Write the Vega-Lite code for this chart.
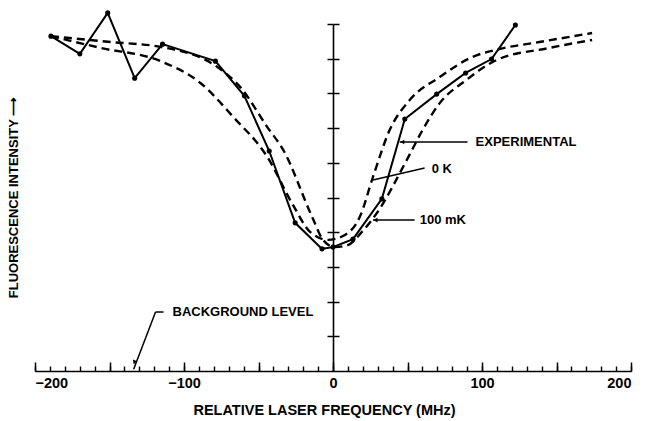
{
  "$schema": "https://vega.github.io/schema/vega-lite/v6.json",
  "width": 596,
  "height": 347,
  "autosize": {"type": "none"},
  "padding": {"left": 35, "top": 24, "right": 14, "bottom": 50},
  "background": "white",
  "config": {
    "view": {"stroke": null},
    "font": "Liberation Sans",
    "axis": {"grid": false, "domainColor": "black", "tickColor": "black", "labelColor": "black", "titleColor": "black", "labelFont": "Liberation Sans", "titleFont": "Liberation Sans"}
  },
  "datasets": {
    "experimental": [
      {"freq": -189.3, "intensity": 9.65},
      {"freq": -169.9, "intensity": 9.14},
      {"freq": -151.2, "intensity": 10.32},
      {"freq": -133.1, "intensity": 8.44},
      {"freq": -114.4, "intensity": 9.42},
      {"freq": -78.9, "intensity": 8.93},
      {"freq": -59.5, "intensity": 7.93},
      {"freq": -42.8, "intensity": 6.34},
      {"freq": -25.4, "intensity": 4.27},
      {"freq": -7.4, "intensity": 3.52},
      {"freq": 0, "intensity": 3.57},
      {"freq": 13.4, "intensity": 3.8},
      {"freq": 32.8, "intensity": 4.96},
      {"freq": 48.2, "intensity": 7.26},
      {"freq": 69.6, "intensity": 7.98},
      {"freq": 89.0, "intensity": 8.59},
      {"freq": 106.4, "intensity": 8.99},
      {"freq": 122.4, "intensity": 9.97}
    ],
    "zeroK": [
      {"freq": -189.3, "intensity": 9.65},
      {"freq": -155.9, "intensity": 9.31},
      {"freq": -115.7, "intensity": 8.93},
      {"freq": -89.0, "intensity": 8.3},
      {"freq": -66.9, "intensity": 7.32},
      {"freq": -44.1, "intensity": 6.17},
      {"freq": -26.8, "intensity": 4.78},
      {"freq": -15.4, "intensity": 4.01},
      {"freq": -3.3, "intensity": 3.78},
      {"freq": 8.0, "intensity": 3.92},
      {"freq": 18.1, "intensity": 4.45},
      {"freq": 26.8, "intensity": 5.59},
      {"freq": 38.1, "intensity": 6.95},
      {"freq": 51.5, "intensity": 7.81},
      {"freq": 71.6, "intensity": 8.47},
      {"freq": 93.6, "intensity": 9.05},
      {"freq": 111.7, "intensity": 9.28},
      {"freq": 138.5, "intensity": 9.48},
      {"freq": 173.9, "intensity": 9.74}
    ],
    "hundredmK": [
      {"freq": -189.3, "intensity": 9.65},
      {"freq": -149.2, "intensity": 9.48},
      {"freq": -115.7, "intensity": 9.34},
      {"freq": -77.6, "intensity": 8.76},
      {"freq": -62.2, "intensity": 8.18},
      {"freq": -44.1, "intensity": 7.03},
      {"freq": -33.4, "intensity": 6.37},
      {"freq": -14.0, "intensity": 4.44},
      {"freq": -6.7, "intensity": 3.78},
      {"freq": 1.3, "intensity": 3.57},
      {"freq": 10.0, "intensity": 3.63},
      {"freq": 19.4, "intensity": 4.01},
      {"freq": 29.4, "intensity": 4.55},
      {"freq": 49.5, "intensity": 6.08},
      {"freq": 60.2, "intensity": 6.95},
      {"freq": 71.6, "intensity": 7.72},
      {"freq": 89.6, "intensity": 8.39},
      {"freq": 109.7, "intensity": 8.96},
      {"freq": 145.2, "intensity": 9.31},
      {"freq": 173.9, "intensity": 9.54}
    ],
    "leaders": [
      {"x": 44.8, "y": 6.6, "x2": 90.3, "y2": 6.6},
      {"x": 26.1, "y": 5.5, "x2": 61.5, "y2": 5.85},
      {"x": 26.8, "y": 4.35, "x2": 54.8, "y2": 4.35},
      {"x": -113.7, "y": 1.7, "x2": -119.1, "y2": 1.7},
      {"x": -119.1, "y": 1.7, "x2": -133.8, "y2": 0.05}
    ],
    "leftArrows": [
      {"x": 46.5, "y": 6.6},
      {"x": 28.5, "y": 4.35}
    ],
    "bgArrow": [
      {"x": -133.3, "y": 0.25}
    ],
    "labels": [
      {"x": 95.7, "y": 6.6, "label": "EXPERIMENTAL"},
      {"x": 66.2, "y": 5.83, "label": "0 K"},
      {"x": 58.2, "y": 4.35, "label": "100 mK"},
      {"x": -107.7, "y": 1.7, "label": "BACKGROUND LEVEL"}
    ]
  },
  "layer": [
    {
      "data": {"name": "experimental"},
      "mark": {"type": "line", "color": "black", "strokeWidth": 2},
      "encoding": {
        "x": {"field": "freq", "type": "quantitative", "scale": {"domain": [-200, 200]},
          "axis": {"orient": "bottom", "values": [-200,-190,-180,-170,-160,-150,-140,-130,-120,-110,-100,-90,-80,-70,-60,-50,-40,-30,-20,-10,0,10,20,30,40,50,60,70,80,90,100,110,120,130,140,150,160,170,180,190,200],
            "tickSize": -5, "tickWidth": 1.4, "labels": false, "domain": true, "domainWidth": 1.6,
            "title": "RELATIVE LASER FREQUENCY (MHz)", "titleFontSize": 14.5, "titleFontWeight": "bold",
            "titleX": 289, "titleY": 39, "titleBaseline": "middle", "titleAnchor": "middle"}},
        "y": {"field": "intensity", "type": "quantitative", "scale": {"domain": [0, 10]},
          "axis": {"orient": "left", "offset": -298, "values": [1,2,3,4,5,6,7,8,9,10], "tickSize": 6, "tickWidth": 1.5,
            "labels": false, "domain": true, "domainWidth": 1.6,
            "title": "FLUORESCENCE INTENSITY ⟶", "titleFontSize": 13, "titleFontWeight": "bold",
            "titleX": -320, "titleY": 173, "titleAngle": -90, "titleBaseline": "middle", "titleAlign": "center"}}
      }
    },
    {
      "data": {"name": "experimental"},
      "mark": {"type": "point", "filled": true, "color": "black", "size": 26, "opacity": 1},
      "encoding": {
        "x": {"field": "freq", "type": "quantitative", "axis": null},
        "y": {"field": "intensity", "type": "quantitative", "axis": null}
      }
    },
    {
      "data": {"name": "zeroK"},
      "mark": {"type": "line", "color": "black", "strokeWidth": 2.4, "strokeDash": [8, 5], "interpolate": "monotone"},
      "encoding": {
        "x": {"field": "freq", "type": "quantitative",
          "axis": {"orient": "bottom", "values": [-200,-150,-100,-50,0,50,100,150,200], "tickSize": -9, "tickWidth": 1.5,
            "domain": false, "labelExpr": "datum.value % 100 === 0 ? datum.label : ''",
            "labelFontSize": 14.5, "labelFontWeight": "bold", "labelPadding": 21, "labelBaseline": "middle", "title": null}},
        "y": {"field": "intensity", "type": "quantitative", "axis": null}
      }
    },
    {
      "data": {"name": "hundredmK"},
      "mark": {"type": "line", "color": "black", "strokeWidth": 2.4, "strokeDash": [8, 5], "interpolate": "monotone"},
      "encoding": {
        "x": {"field": "freq", "type": "quantitative", "axis": null},
        "y": {"field": "intensity", "type": "quantitative",
          "axis": {"orient": "right", "offset": -298, "values": [1,2,3,4,5,6,7,8,9,10], "tickSize": 6, "tickWidth": 1.5,
            "labels": false, "domain": false, "title": null}}
      }
    },
    {
      "data": {"name": "leaders"},
      "mark": {"type": "rule", "color": "black", "strokeWidth": 1.5},
      "encoding": {
        "x": {"field": "x", "type": "quantitative", "axis": null},
        "y": {"field": "y", "type": "quantitative", "axis": null},
        "x2": {"field": "x2"},
        "y2": {"field": "y2"}
      }
    },
    {
      "data": {"name": "leftArrows"},
      "mark": {"type": "point", "shape": "triangle-left", "filled": true, "color": "black", "size": 22, "opacity": 1},
      "encoding": {
        "x": {"field": "x", "type": "quantitative", "axis": null},
        "y": {"field": "y", "type": "quantitative", "axis": null}
      }
    },
    {
      "data": {"name": "bgArrow"},
      "mark": {"type": "point", "shape": "triangle-down", "angle": 20, "filled": true, "color": "black", "size": 22, "opacity": 1},
      "encoding": {
        "x": {"field": "x", "type": "quantitative", "axis": null},
        "y": {"field": "y", "type": "quantitative", "axis": null}
      }
    },
    {
      "data": {"name": "labels"},
      "mark": {"type": "text", "align": "left", "baseline": "middle", "fontSize": 13, "fontWeight": "bold", "color": "black", "font": "Liberation Sans"},
      "encoding": {
        "x": {"field": "x", "type": "quantitative", "axis": null},
        "y": {"field": "y", "type": "quantitative", "axis": null},
        "text": {"field": "label"}
      }
    }
  ],
  "resolve": {"axis": {"x": "independent", "y": "independent"}}
}
